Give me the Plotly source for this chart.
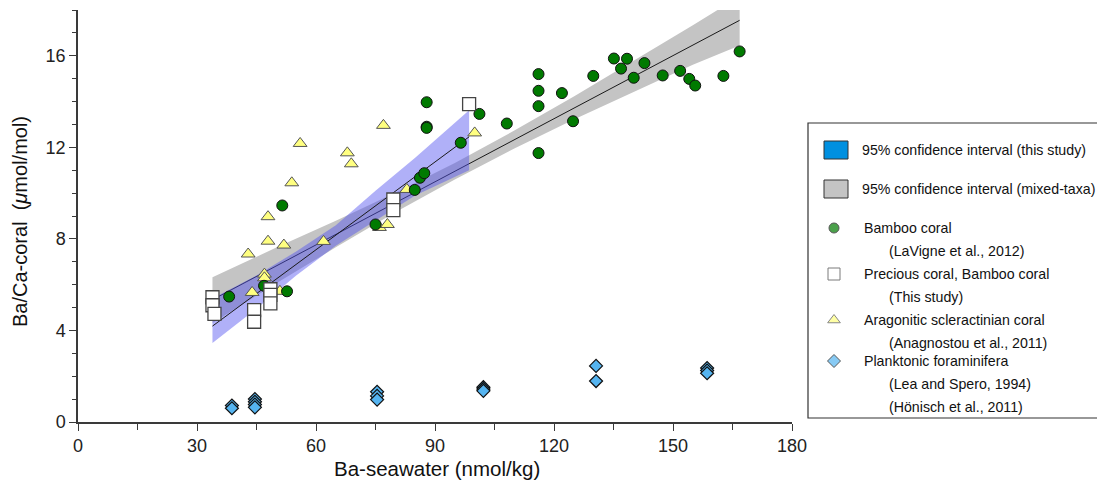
import plotly.graph_objects as go

# The page body has an 8px default margin, so the figure is laid out in page pixels minus 8.
OFF = 8
W, H = 1105 - OFF, 486 - OFF

# ---------------- data ----------------
# Bamboo coral (LaVigne et al., 2012)
bamboo_x = [38.1, 46.9, 51.5, 52.7, 75.0, 84.9, 86.2, 87.3, 87.9, 87.9, 87.9, 96.5, 101.2, 108.1,
            116.1, 116.1, 116.1, 116.1, 122.0, 124.8, 129.9, 135.1, 136.9, 138.4, 140.1, 142.8,
            147.4, 151.8, 154.1, 155.6, 162.7, 166.8]
bamboo_y = [5.48, 5.95, 9.46, 5.71, 8.63, 10.14, 10.67, 10.87, 13.97, 12.9, 12.85, 12.2, 13.46, 13.04,
            15.2, 14.47, 13.8, 11.75, 14.37, 13.14, 15.12, 15.88, 15.44, 15.87, 15.04, 15.68,
            15.14, 15.34, 14.99, 14.7, 15.12, 16.19]

# Precious coral, Bamboo coral (This study)
study_x = [33.9, 33.9, 34.4, 44.4, 44.4, 48.5, 48.5, 48.5, 79.5, 79.5, 98.6]
study_y = [5.45, 5.1, 4.72, 4.89, 4.38, 5.8, 5.55, 5.18, 9.72, 9.26, 13.89]

# Aragonitic scleractinian coral (Anagnostou et al., 2011)
arag_x = [42.9, 43.9, 47.0, 47.0, 47.9, 47.9, 50.9, 51.9, 53.9, 56.0, 61.9, 67.9, 68.9,
          76.0, 77.0, 78.0, 82.9, 100.0]
arag_y = [7.34, 5.66, 6.46, 6.3, 7.9, 8.97, 5.71, 7.73, 10.45, 12.17, 7.89, 11.76, 11.28,
          8.5, 12.96, 8.63, 10.16, 12.63]

# Planktonic foraminifera (Lea and Spero, 1994; Hönisch et al., 2011)
foram_x = [38.8, 38.8, 44.6, 44.6, 44.6, 44.6, 75.4, 75.4, 75.4, 102.2, 102.2, 102.2,
           130.6, 130.6, 158.6, 158.6, 158.6]
foram_y = [0.72, 0.6, 1.0, 0.88, 0.76, 0.64, 1.32, 1.14, 0.98, 1.52, 1.44, 1.36,
           2.45, 1.79, 2.36, 2.25, 2.13]

# 95% confidence interval (mixed-taxa)
mixed_band_x = [33.9, 50, 65, 80, 95, 110, 125, 140, 155, 166.8]
mixed_upper = [6.32, 7.62, 8.79, 10.02, 11.32, 12.73, 14.22, 15.76, 17.33, 18.6]
mixed_lower = [4.32, 6.06, 7.63, 9.16, 10.6, 11.95, 13.22, 14.42, 15.61, 16.45]
mixed_fit_x = [33.9, 166.8]
mixed_fit_y = [5.34, 17.55]

# 95% confidence interval (this study)
study_band_x = [33.9, 45, 55, 65, 75, 85, 98.6]
study_upper = [5.4, 6.4, 7.45, 8.6, 10.1, 11.55, 13.62]
study_lower = [3.45, 4.95, 6.4, 7.7, 8.8, 9.9, 11.0]
study_fit_x = [33.9, 98.6]
study_fit_y = [4.19, 12.46]

x_ticks = [0, 30, 60, 90, 120, 150, 180]
y_ticks = [0, 4, 8, 12, 16]

# legend entries
legend_band_labels = ["95% confidence interval (this study)", "95% confidence interval (mixed-taxa)"]
legend_marker_labels = [
    ["Bamboo coral", "(LaVigne et al., 2012)"],
    ["Precious coral, Bamboo coral", "(This study)"],
    ["Aragonitic scleractinian coral", "(Anagnostou et al., 2011)"],
    ["Planktonic foraminifera", "(Lea and Spero, 1994)", "(Hönisch et al., 2011)"],
]

# ---------------- styles ----------------
FONT = "Liberation Sans, Arial, sans-serif"
AX = "#3a3a3a"
GREEN = "#007a00"
YELLOW = "#ffff80"
SKY = "#55b4f0"
GRAY_BAND = "#c4c4c4"
BLUE_BAND = "rgba(80,80,240,0.45)"


def px(v):
    """page pixel -> figure pixel"""
    return v - OFF


# plot-area pixel box (page pixels)
PL, PR, PT, PB = 78, 792, 10, 422

fig = go.Figure()

# mixed-taxa band + fit
fig.add_trace(go.Scatter(x=mixed_band_x + mixed_band_x[::-1], y=mixed_upper + mixed_lower[::-1],
                         fill="toself", fillcolor=GRAY_BAND, mode="lines", line=dict(width=0),
                         hoverinfo="skip", showlegend=False))
fig.add_trace(go.Scatter(x=mixed_fit_x, y=mixed_fit_y, mode="lines",
                         line=dict(color="#1a1a1a", width=1), showlegend=False))
# this-study band + fit
fig.add_trace(go.Scatter(x=study_band_x + study_band_x[::-1], y=study_upper + study_lower[::-1],
                         fill="toself", fillcolor=BLUE_BAND, mode="lines", line=dict(width=0),
                         hoverinfo="skip", showlegend=False))
fig.add_trace(go.Scatter(x=study_fit_x, y=study_fit_y, mode="lines",
                         line=dict(color="#1a1a1a", width=1), showlegend=False))

# markers
fig.add_trace(go.Scatter(x=foram_x, y=foram_y, mode="markers", showlegend=False,
                         marker=dict(symbol="diamond", size=10, color=SKY,
                                     line=dict(color="#111", width=1.2))))
fig.add_trace(go.Scatter(x=arag_x, y=arag_y, mode="markers", showlegend=False,
                         marker=dict(symbol="triangle-up", size=12, color=YELLOW,
                                     line=dict(color="#555", width=1))))
fig.add_trace(go.Scatter(x=bamboo_x, y=bamboo_y, mode="markers", showlegend=False,
                         marker=dict(symbol="circle", size=11, color=GREEN,
                                     line=dict(color="#111", width=1))))
fig.add_trace(go.Scatter(x=study_x, y=study_y, mode="markers", showlegend=False,
                         marker=dict(symbol="square", size=13, color="white",
                                     line=dict(color="#444", width=1.3))))

# legend markers (pixel-coordinate overlay axes)
leg_x = [834, 834, 834, 834]
leg_y = [228, 274, 320, 361]
fig.add_trace(go.Scatter(x=leg_x, y=leg_y, xaxis="x3", yaxis="y3", mode="markers", showlegend=False,
                         hoverinfo="skip",
                         marker=dict(symbol=["circle", "square", "triangle-up", "diamond"],
                                     size=[10, 12, 11, 10],
                                     color=[GREEN, "white", YELLOW, SKY],
                                     line=dict(color=["#111", "#444", "#555", "#111"], width=1))))

x_dom = [px(PL) / W, px(PR) / W]
y_dom = [(H - px(PB)) / H, (H - px(PT)) / H]

tickfont = dict(family=FONT, size=18, color="#222")
fig.update_layout(
    template="none",
    width=W, height=H, margin=dict(l=0, r=0, t=0, b=0, pad=0),
    paper_bgcolor="white", plot_bgcolor="rgba(0,0,0,0)",
    showlegend=False,
    font=dict(family=FONT, color="#222"),
    xaxis=dict(domain=x_dom, range=[0, 180], tickvals=x_ticks, ticks="outside", ticklen=7,
               tickcolor=AX, tickwidth=1.2, showline=True, linecolor=AX, linewidth=1.5,
               showgrid=False, zeroline=False, tickfont=tickfont, automargin=False,
               minor=dict(dtick=15, tick0=0, ticks="outside", ticklen=6, tickcolor=AX, tickwidth=1.2,
                          showgrid=False),
               anchor="y"),
    yaxis=dict(domain=y_dom, range=[0, 18], tickvals=y_ticks, ticks="outside", ticklen=7,
               tickcolor=AX, tickwidth=1.2, showline=True, linecolor=AX, linewidth=1.5,
               showgrid=False, zeroline=False, tickfont=tickfont, automargin=False,
               minor=dict(dtick=1, tick0=0, ticks="outside", ticklen=4, tickcolor=AX, tickwidth=1,
                          showgrid=False),
               anchor="x"),
    xaxis2=dict(overlaying="x", side="top", anchor="y", range=[0, 180], dtick=15, tick0=0,
                ticks="inside", ticklen=5, tickcolor=AX, showticklabels=False, showline=True,
                linecolor=AX, linewidth=1.5, showgrid=False, zeroline=False, automargin=False),
    yaxis2=dict(overlaying="y", side="right", anchor="x", range=[0, 18], dtick=1, tick0=0,
                ticks="inside", ticklen=5, tickcolor=AX, showticklabels=False, showline=True,
                linecolor=AX, linewidth=1.5, showgrid=False, zeroline=False, automargin=False),
    # overlay axes in page-pixel units for the hand-built legend and titles
    xaxis3=dict(domain=[0, 1], range=[OFF, OFF + W], visible=False, anchor="y3", fixedrange=True,
                automargin=False),
    yaxis3=dict(domain=[0, 1], range=[OFF + H, OFF], visible=False, anchor="x3", fixedrange=True,
                automargin=False),
)

shapes = [
    dict(type="rect", xref="x3", yref="y3", x0=808, y0=123, x1=1120, y1=418,
         line=dict(color="#333", width=1.2), fillcolor="rgba(0,0,0,0)"),
    dict(type="rect", xref="x3", yref="y3", x0=824, y0=141, x1=848, y1=159,
         line=dict(color="#333", width=1), fillcolor="#0090e0"),
    dict(type="rect", xref="x3", yref="y3", x0=824, y0=180, x1=848, y1=198,
         line=dict(color="#333", width=1), fillcolor="#c4c4c4"),
]
fig.update_layout(shapes=shapes)

ann = []
legfont = dict(family=FONT, size=14.2, color="#111")
for lbl, yy in zip(legend_band_labels, [150, 189]):
    ann.append(dict(xref="x3", yref="y3", x=860, y=yy, text=lbl, showarrow=False,
                    xanchor="left", yanchor="middle", font=legfont))
for lines, yy in zip(legend_marker_labels, leg_y):
    for i, t in enumerate(lines):
        ann.append(dict(xref="x3", yref="y3", x=862 if i == 0 else 887, y=yy + 23 * i, text=t,
                        showarrow=False, xanchor="left", yanchor="middle", font=legfont))
# axis titles
ann.append(dict(xref="x3", yref="y3", x=437, y=468, text="Ba-seawater (nmol/kg)", showarrow=False,
                xanchor="center", yanchor="middle", font=dict(family=FONT, size=20.5, color="#111")))
ann.append(dict(xref="x3", yref="y3", x=20, y=222, text="Ba/Ca-coral  (<i>μ</i>mol/mol)",
                showarrow=False, textangle=-90, xanchor="center", yanchor="middle",
                font=dict(family=FONT, size=20, color="#111")))
fig.update_layout(annotations=ann)

fig.write_html("out.html")
